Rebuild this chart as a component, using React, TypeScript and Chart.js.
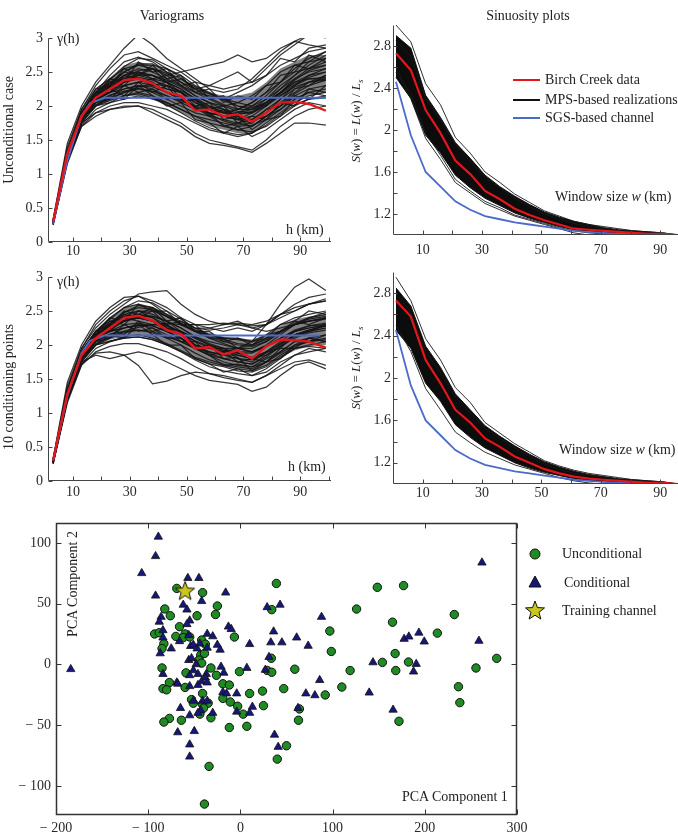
import React, { useEffect, useRef } from "react";
import { Chart, registerables } from "chart.js";
Chart.register(...registerables);

const FONT = '"Liberation Serif", "Times New Roman", serif';

// ---------- Variograms ----------
const VARIO_H = [3, 8, 13, 18, 23, 28, 33, 38, 43, 48, 53, 58, 63, 68, 73, 78, 83, 88, 93, 99];
const VARIO_X_TICKS = [10, 20, 30, 40, 50, 60, 70, 80, 90, 100];
const VARIO_X_LABELS = ["10", "", "30", "", "50", "", "70", "", "90", ""];
const VARIO_Y_TICKS = [0, 0.5, 1, 1.5, 2, 2.5, 3];
const VARIO_Y_LABELS = ["0", "0.5", "1", "1.5", "2", "2.5", "3"];

const UNCOND_RED = [0.3, 1.3, 1.85, 2.12, 2.25, 2.38, 2.4, 2.33, 2.2, 2.15, 1.93, 1.95, 1.85, 1.88, 1.77, 1.9, 2.05, 2.06, 2.03, 1.93];
const UNCOND_BLUE_H = [3, 8, 13, 16, 21, 99];
const UNCOND_BLUE = [0.27, 1.2, 1.85, 2.04, 2.12, 2.12];
const UNCOND_CORE_LOW = [0.27, 1.2, 1.75, 2.0, 2.08, 2.15, 2.15, 2.1, 2.0, 1.9, 1.8, 1.7, 1.65, 1.6, 1.6, 1.75, 1.9, 2.05, 2.15, 2.2];
const UNCOND_CORE_HIGH = [0.32, 1.35, 1.92, 2.25, 2.42, 2.6, 2.65, 2.6, 2.5, 2.4, 2.3, 2.2, 2.15, 2.15, 2.2, 2.35, 2.55, 2.65, 2.75, 2.75];
const UNCOND_REALS = [
  [0.3, 1.35, 1.95, 2.3, 2.55, 2.75, 2.8, 2.7, 2.6, 2.5, 2.35, 2.3, 2.25, 2.3, 2.35, 2.55, 2.75, 2.9, 3.05, 3.1],
  [0.28, 1.3, 1.9, 2.2, 2.45, 2.65, 2.72, 2.65, 2.5, 2.35, 2.2, 2.15, 2.1, 2.2, 2.3, 2.45, 2.6, 2.7, 2.8, 2.85],
  [0.3, 1.25, 1.85, 2.15, 2.35, 2.5, 2.6, 2.55, 2.45, 2.3, 2.15, 2.05, 2.0, 2.05, 2.15, 2.3, 2.5, 2.6, 2.65, 2.7],
  [0.27, 1.2, 1.8, 2.1, 2.3, 2.45, 2.5, 2.45, 2.35, 2.25, 2.1, 1.95, 1.9, 1.95, 2.05, 2.2, 2.35, 2.5, 2.55, 2.6],
  [0.3, 1.3, 1.9, 2.1, 2.2, 2.3, 2.35, 2.3, 2.25, 2.2, 2.05, 1.95, 1.85, 1.8, 1.9, 2.05, 2.2, 2.35, 2.45, 2.5],
  [0.26, 1.2, 1.75, 2.0, 2.1, 2.2, 2.25, 2.2, 2.1, 2.0, 1.9, 1.85, 1.8, 1.75, 1.8, 1.95, 2.1, 2.25, 2.35, 2.4],
  [0.3, 1.25, 1.8, 2.0, 2.05, 2.1, 2.15, 2.1, 2.05, 1.95, 1.85, 1.75, 1.7, 1.65, 1.7, 1.85, 2.0, 2.15, 2.25, 2.3],
  [0.25, 1.15, 1.7, 1.9, 2.0, 2.05, 2.05, 2.0, 1.95, 1.85, 1.75, 1.65, 1.6, 1.55, 1.6, 1.75, 1.9, 2.05, 2.15, 2.2],
  [0.28, 1.2, 1.7, 1.85, 1.95, 2.0, 2.0, 1.95, 1.85, 1.75, 1.6, 1.5, 1.45, 1.4, 1.35, 1.5, 1.7, 1.85, 1.95, 2.0],
  [0.3, 1.25, 1.75, 1.9, 1.95, 1.98, 2.0, 1.9, 1.8, 1.7, 1.55, 1.45, 1.42, 1.38, 1.32, 1.45, 1.6, 1.75, 1.75, 1.72],
  [0.32, 1.4, 1.95, 2.25, 2.4, 2.55, 2.6, 2.6, 2.55, 2.45, 2.3, 2.2, 2.1, 2.05, 2.0, 2.1, 2.25, 2.4, 2.5, 2.55],
  [0.3, 1.35, 1.9, 2.2, 2.35, 2.4, 2.45, 2.4, 2.35, 2.25, 2.1, 2.0, 1.95, 1.9, 1.95, 2.1, 2.3, 2.45, 2.6, 2.75],
  [0.29, 1.28, 1.85, 2.1, 2.25, 2.35, 2.4, 2.35, 2.2, 2.1, 2.0, 1.9, 1.85, 1.9, 2.0, 2.15, 2.35, 2.55, 2.7, 2.8],
  [0.27, 1.22, 1.78, 2.05, 2.15, 2.25, 2.3, 2.28, 2.2, 2.1, 1.98, 1.88, 1.78, 1.72, 1.75, 1.9, 2.1, 2.3, 2.45, 2.55],
  [0.3, 1.3, 1.88, 2.15, 2.3, 2.45, 2.55, 2.5, 2.4, 2.3, 2.2, 2.1, 2.0, 1.92, 1.9, 2.0, 2.15, 2.3, 2.4, 2.42],
  [0.33, 1.45, 2.0, 2.35, 2.6, 2.85, 3.05, 2.9, 2.7, 2.55, 2.4, 2.25, 2.2, 2.25, 2.4, 2.6, 2.8, 2.95, 3.05, 3.0],
  [0.28, 1.25, 1.82, 2.1, 2.25, 2.3, 2.35, 2.4, 2.45, 2.5, 2.55, 2.6, 2.65, 2.75, 2.65, 2.7, 2.85, 2.95, 2.9, 2.85],
  [0.3, 1.3, 1.85, 2.1, 2.2, 2.25, 2.3, 2.25, 2.15, 2.05, 1.95, 1.9, 1.85, 1.8, 1.85, 2.0, 2.2, 2.4, 2.55, 2.65],
  [0.26, 1.18, 1.72, 1.95, 2.05, 2.15, 2.2, 2.15, 2.05, 1.95, 1.85, 1.8, 1.75, 1.7, 1.72, 1.8, 1.95, 2.1, 2.2, 2.25],
  [0.28, 1.25, 1.82, 2.08, 2.2, 2.35, 2.45, 2.45, 2.38, 2.28, 2.15, 2.05, 1.95, 1.85, 1.8, 1.9, 2.05, 2.2, 2.35, 2.45],
  [0.3, 1.32, 1.9, 2.18, 2.32, 2.5, 2.62, 2.62, 2.5, 2.4, 2.28, 2.18, 2.08, 2.0, 1.98, 2.05, 2.2, 2.38, 2.52, 2.6],
  [0.29, 1.27, 1.83, 2.06, 2.16, 2.22, 2.26, 2.22, 2.15, 2.08, 1.98, 1.85, 1.72, 1.65, 1.62, 1.7, 1.85, 2.0, 2.1, 2.15],
  [0.27, 1.24, 1.8, 2.02, 2.12, 2.2, 2.28, 2.32, 2.3, 2.22, 2.12, 2.0, 1.9, 1.82, 1.78, 1.85, 2.0, 2.18, 2.3, 2.38],
  [0.31, 1.33, 1.92, 2.2, 2.38, 2.58, 2.7, 2.68, 2.55, 2.42, 2.25, 2.12, 2.02, 1.95, 1.95, 2.05, 2.25, 2.45, 2.65, 2.8],
  [0.28, 1.26, 1.84, 2.12, 2.28, 2.4, 2.48, 2.45, 2.35, 2.2, 2.05, 1.95, 1.9, 1.88, 1.92, 2.05, 2.2, 2.35, 2.4, 2.4],
  [0.3, 1.29, 1.87, 2.13, 2.26, 2.38, 2.42, 2.38, 2.3, 2.2, 2.08, 1.98, 1.92, 1.88, 1.9, 2.02, 2.18, 2.32, 2.42, 2.5],
  [0.27, 1.2, 1.76, 2.0, 2.08, 2.15, 2.18, 2.12, 2.02, 1.9, 1.78, 1.68, 1.62, 1.58, 1.6, 1.72, 1.88, 2.02, 2.1, 2.12],
  [0.3, 1.3, 1.86, 2.14, 2.28, 2.42, 2.52, 2.55, 2.48, 2.35, 2.25, 2.18, 2.1, 2.0, 1.95, 2.02, 2.15, 2.28, 2.35, 2.38],
  [0.29, 1.27, 1.9, 2.25, 2.3, 2.55, 2.45, 2.6, 2.4, 2.45, 2.2, 2.25, 2.05, 2.15, 2.1, 2.3, 2.35, 2.6, 2.55, 2.7],
  [0.27, 1.22, 1.8, 2.05, 2.25, 2.15, 2.35, 2.2, 2.3, 2.05, 2.1, 1.85, 1.95, 1.75, 1.85, 1.8, 2.05, 2.0, 2.25, 2.2],
  [0.31, 1.33, 1.88, 2.2, 2.2, 2.45, 2.4, 2.3, 2.35, 2.1, 2.0, 2.05, 1.8, 1.85, 1.65, 1.8, 1.85, 2.1, 2.2, 2.15],
  [0.28, 1.24, 1.85, 2.15, 2.4, 2.35, 2.65, 2.5, 2.55, 2.3, 2.35, 2.1, 2.15, 1.95, 2.05, 2.2, 2.45, 2.5, 2.75, 2.65],
  [0.3, 1.3, 1.83, 2.0, 2.15, 2.1, 2.3, 2.15, 2.0, 2.05, 1.8, 1.75, 1.6, 1.7, 1.55, 1.65, 1.8, 1.95, 2.05, 2.0],
  [0.26, 1.2, 1.78, 2.1, 2.3, 2.5, 2.45, 2.55, 2.35, 2.4, 2.25, 2.3, 2.4, 2.5, 2.35, 2.45, 2.7, 2.65, 2.85, 2.9],
  [0.3, 1.28, 1.86, 2.1, 2.35, 2.3, 2.5, 2.4, 2.25, 2.2, 2.0, 1.95, 2.0, 1.8, 1.75, 1.95, 2.0, 2.25, 2.3, 2.45],
  [0.28, 1.25, 1.82, 2.05, 2.1, 2.3, 2.2, 2.25, 2.1, 2.15, 1.95, 1.9, 1.7, 1.75, 1.7, 1.85, 1.95, 2.15, 2.1, 2.3],
];

const COND_RED = [0.3, 1.28, 1.85, 2.1, 2.25, 2.4, 2.43, 2.36, 2.22, 2.16, 1.95, 1.97, 1.86, 1.92, 1.8, 1.98, 2.08, 2.07, 2.05, 1.96];
const COND_BLUE_H = [3, 8, 13, 16, 21, 97];
const COND_BLUE = [0.3, 1.25, 1.88, 2.06, 2.14, 2.14];
const COND_CORE_LOW = [0.27, 1.2, 1.75, 2.0, 2.08, 2.12, 2.15, 2.1, 2.0, 1.9, 1.8, 1.72, 1.68, 1.65, 1.62, 1.7, 1.82, 1.92, 1.98, 2.0];
const COND_CORE_HIGH = [0.32, 1.35, 1.92, 2.22, 2.4, 2.55, 2.6, 2.55, 2.45, 2.35, 2.25, 2.18, 2.12, 2.1, 2.08, 2.15, 2.28, 2.38, 2.42, 2.45];
const COND_REALS = [
  [0.3, 1.35, 1.95, 2.3, 2.5, 2.65, 2.72, 2.65, 2.55, 2.4, 2.3, 2.25, 2.2, 2.25, 2.2, 2.3, 2.45, 2.55, 2.6, 2.65],
  [0.28, 1.3, 1.9, 2.2, 2.4, 2.55, 2.6, 2.55, 2.45, 2.3, 2.2, 2.15, 2.1, 2.1, 2.05, 2.15, 2.3, 2.4, 2.45, 2.5],
  [0.3, 1.25, 1.85, 2.15, 2.3, 2.45, 2.5, 2.45, 2.35, 2.2, 2.1, 2.0, 1.95, 1.95, 1.9, 2.0, 2.15, 2.3, 2.35, 2.4],
  [0.27, 1.2, 1.8, 2.1, 2.25, 2.35, 2.4, 2.35, 2.25, 2.15, 2.0, 1.9, 1.85, 1.85, 1.8, 1.9, 2.05, 2.2, 2.25, 2.3],
  [0.3, 1.3, 1.88, 2.1, 2.2, 2.3, 2.32, 2.28, 2.2, 2.1, 1.95, 1.85, 1.8, 1.75, 1.72, 1.85, 2.0, 2.15, 2.2, 2.25],
  [0.26, 1.2, 1.75, 2.0, 2.1, 2.18, 2.22, 2.18, 2.1, 2.0, 1.88, 1.78, 1.72, 1.68, 1.65, 1.75, 1.9, 2.05, 2.1, 2.15],
  [0.3, 1.25, 1.8, 2.0, 2.05, 2.1, 2.12, 2.08, 2.0, 1.9, 1.78, 1.68, 1.62, 1.58, 1.55, 1.65, 1.8, 1.95, 2.0, 2.05],
  [0.25, 1.15, 1.7, 1.9, 1.98, 2.02, 2.02, 1.96, 1.9, 1.8, 1.68, 1.58, 1.52, 1.48, 1.45, 1.55, 1.7, 1.85, 1.9, 1.95],
  [0.28, 1.2, 1.72, 1.88, 1.9, 1.85, 1.7, 1.43, 1.47, 1.55, 1.6, 1.58, 1.55, 1.5, 1.45, 1.55, 1.65, 1.75, 1.78, 1.7],
  [0.3, 1.25, 1.75, 1.85, 1.8, 1.85, 1.9, 1.85, 1.75, 1.65, 1.55, 1.48, 1.45, 1.42, 1.32, 1.38, 1.55, 1.7, 1.75, 1.65],
  [0.32, 1.4, 1.95, 2.25, 2.45, 2.6, 2.75, 2.78, 2.8, 2.6, 2.45, 2.35, 2.3, 2.32, 2.3, 2.35, 2.45, 2.6, 2.7, 2.75],
  [0.3, 1.35, 1.9, 2.2, 2.35, 2.42, 2.45, 2.42, 2.35, 2.25, 2.12, 2.05, 2.0, 1.95, 1.95, 2.05, 2.2, 2.3, 2.4, 2.45],
  [0.29, 1.28, 1.85, 2.1, 2.25, 2.35, 2.4, 2.35, 2.2, 2.1, 2.0, 1.95, 1.9, 1.95, 2.05, 2.3, 2.6, 2.85, 2.97, 2.8],
  [0.27, 1.22, 1.78, 2.05, 2.15, 2.25, 2.3, 2.28, 2.2, 2.1, 1.98, 1.88, 1.8, 1.75, 1.72, 1.82, 1.98, 2.12, 2.2, 2.25],
  [0.3, 1.3, 1.88, 2.15, 2.3, 2.48, 2.58, 2.55, 2.42, 2.3, 2.2, 2.1, 2.02, 1.95, 1.9, 1.98, 2.1, 2.2, 2.28, 2.32],
  [0.33, 1.45, 2.0, 2.35, 2.55, 2.7, 2.72, 2.6, 2.45, 2.35, 2.25, 2.22, 2.25, 2.3, 2.28, 2.3, 2.4, 2.5, 2.6, 2.68],
  [0.28, 1.25, 1.82, 2.1, 2.2, 2.25, 2.28, 2.3, 2.32, 2.3, 2.3, 2.3, 2.32, 2.3, 2.25, 2.2, 2.25, 2.3, 2.35, 2.4],
  [0.3, 1.3, 1.85, 2.1, 2.2, 2.25, 2.3, 2.25, 2.15, 2.05, 1.95, 1.9, 1.85, 1.8, 1.78, 1.88, 2.02, 2.15, 2.22, 2.28],
  [0.26, 1.18, 1.72, 1.95, 2.05, 2.12, 2.15, 2.1, 2.02, 1.92, 1.82, 1.75, 1.7, 1.65, 1.62, 1.7, 1.85, 1.98, 2.05, 2.08],
  [0.28, 1.25, 1.82, 2.08, 2.22, 2.35, 2.42, 2.42, 2.35, 2.25, 2.12, 2.02, 1.95, 1.88, 1.82, 1.9, 2.02, 2.15, 2.22, 2.28],
  [0.3, 1.32, 1.9, 2.18, 2.32, 2.48, 2.55, 2.52, 2.42, 2.32, 2.2, 2.12, 2.05, 2.0, 1.98, 2.05, 2.18, 2.3, 2.38, 2.42],
  [0.29, 1.27, 1.83, 2.06, 2.16, 2.2, 2.22, 2.2, 2.12, 2.05, 1.95, 1.85, 1.75, 1.7, 1.68, 1.75, 1.88, 2.0, 2.05, 2.1],
  [0.27, 1.24, 1.8, 2.02, 2.12, 2.2, 2.26, 2.3, 2.28, 2.2, 2.1, 2.0, 1.92, 1.85, 1.8, 1.85, 1.98, 2.1, 2.18, 2.22],
  [0.31, 1.33, 1.92, 2.2, 2.38, 2.55, 2.65, 2.62, 2.5, 2.38, 2.25, 2.15, 2.08, 2.02, 2.0, 2.08, 2.2, 2.32, 2.4, 2.48],
  [0.28, 1.26, 1.84, 2.12, 2.28, 2.4, 2.45, 2.4, 2.3, 2.18, 2.05, 1.96, 1.9, 1.88, 1.88, 1.98, 2.1, 2.22, 2.28, 2.3],
  [0.3, 1.29, 1.87, 2.13, 2.26, 2.36, 2.4, 2.36, 2.28, 2.18, 2.06, 1.98, 1.92, 1.9, 1.9, 1.98, 2.1, 2.2, 2.25, 2.28],
  [0.27, 1.2, 1.76, 2.0, 2.06, 2.1, 2.12, 2.08, 2.0, 1.9, 1.8, 1.72, 1.68, 1.62, 1.6, 1.68, 1.82, 1.95, 1.98, 1.95],
  [0.3, 1.3, 1.86, 2.14, 2.28, 2.42, 2.5, 2.5, 2.42, 2.32, 2.22, 2.15, 2.1, 2.08, 2.05, 2.1, 2.2, 2.3, 2.35, 2.38],
  [0.29, 1.27, 1.9, 2.2, 2.3, 2.5, 2.45, 2.55, 2.35, 2.4, 2.2, 2.2, 2.05, 2.1, 2.0, 2.15, 2.2, 2.35, 2.3, 2.4],
  [0.27, 1.22, 1.8, 2.05, 2.25, 2.15, 2.35, 2.2, 2.25, 2.05, 2.05, 1.85, 1.9, 1.75, 1.8, 1.75, 1.95, 1.95, 2.1, 2.05],
  [0.31, 1.33, 1.88, 2.2, 2.2, 2.4, 2.35, 2.3, 2.3, 2.1, 1.95, 2.0, 1.8, 1.82, 1.62, 1.75, 1.8, 2.0, 2.1, 2.05],
  [0.28, 1.24, 1.85, 2.15, 2.4, 2.35, 2.6, 2.5, 2.5, 2.3, 2.3, 2.1, 2.1, 1.95, 2.0, 2.1, 2.3, 2.35, 2.5, 2.45],
  [0.3, 1.3, 1.83, 2.0, 2.15, 2.1, 2.3, 2.15, 2.0, 2.0, 1.8, 1.72, 1.6, 1.65, 1.55, 1.6, 1.75, 1.85, 1.95, 1.9],
  [0.26, 1.2, 1.78, 2.1, 2.3, 2.45, 2.4, 2.5, 2.3, 2.35, 2.25, 2.25, 2.3, 2.35, 2.25, 2.3, 2.45, 2.5, 2.6, 2.65],
  [0.3, 1.28, 1.86, 2.1, 2.35, 2.3, 2.5, 2.4, 2.25, 2.2, 2.0, 1.95, 1.95, 1.8, 1.75, 1.9, 1.95, 2.15, 2.2, 2.3],
  [0.28, 1.25, 1.82, 2.05, 2.1, 2.3, 2.2, 2.25, 2.1, 2.1, 1.95, 1.85, 1.7, 1.72, 1.68, 1.8, 1.9, 2.05, 2.05, 2.15],
];

// ---------- Sinuosity ----------
const SIN_W = [1, 6, 11, 16, 21, 26, 31, 36, 41, 46, 51, 56, 61, 66, 71, 76, 81, 86, 91, 96];
const SIN_X_TICKS = [10, 20, 30, 40, 50, 60, 70, 80, 90];
const SIN_X_LABELS = ["10", "", "30", "", "50", "", "70", "", "90"];
const SIN_Y_TICKS = [1.2, 1.4, 1.6, 1.8, 2.0, 2.2, 2.4, 2.6, 2.8];
const SIN_Y_LABELS = ["1.2", "", "1.6", "", "2", "", "2.4", "", "2.8"];

const SIN_TOP_RED = [2.73, 2.57, 2.19, 1.97, 1.71, 1.58, 1.42, 1.34, 1.25, 1.19, 1.14, 1.1, 1.06, 1.05, 1.04, 1.03, 1.02, 1.01, 1.01, 1.0];
const SIN_TOP_BLUE = [2.46, 1.95, 1.6, 1.46, 1.32, 1.24, 1.18, 1.15, 1.12, 1.1, 1.08, 1.06, 1.04, 1.03, 1.02, 1.01, 1.01, 1.0, 1.0, 1.0];
const SIN_TOP_UPPER = [2.9, 2.78, 2.33, 2.12, 1.88, 1.73, 1.57, 1.46, 1.37, 1.29, 1.22, 1.17, 1.13, 1.1, 1.07, 1.05, 1.04, 1.03, 1.02, 1.0];
const SIN_TOP_LOWER = [2.5, 2.3, 1.95, 1.78, 1.57, 1.45, 1.35, 1.28, 1.21, 1.16, 1.12, 1.08, 1.05, 1.03, 1.02, 1.01, 1.0, 1.0, 1.0, 1.0];
const SIN_TOP_LINES = [
  [3.0, 2.84, 2.44, 2.24, 1.93, 1.78, 1.6, 1.5, 1.39, 1.31, 1.23, 1.18, 1.13, 1.1, 1.08, 1.06, 1.04, 1.03, 1.02, 1.0],
  [2.6, 2.3, 1.92, 1.72, 1.5, 1.4, 1.3, 1.24, 1.18, 1.14, 1.1, 1.06, 1.02, 1.0, 0.99, 0.99, 1.0, 1.0, 1.0, 1.0],
  [2.55, 2.35, 1.97, 1.76, 1.53, 1.42, 1.32, 1.26, 1.19, 1.15, 1.11, 1.07, 1.04, 1.02, 1.01, 1.0, 1.0, 1.0, 1.0, 1.0],
  [2.85, 2.7, 2.3, 2.1, 1.86, 1.7, 1.55, 1.45, 1.35, 1.27, 1.2, 1.15, 1.11, 1.08, 1.06, 1.04, 1.03, 1.02, 1.01, 1.0],
];

const SIN_BOT_RED = [2.73, 2.58, 2.17, 1.95, 1.7, 1.58, 1.43, 1.35, 1.26, 1.2, 1.14, 1.1, 1.07, 1.05, 1.04, 1.03, 1.02, 1.01, 1.01, 1.0];
const SIN_BOT_BLUE = [2.45, 1.93, 1.6, 1.46, 1.32, 1.24, 1.18, 1.15, 1.12, 1.1, 1.08, 1.06, 1.04, 1.03, 1.02, 1.01, 1.01, 1.0, 1.0, 1.0];
const SIN_BOT_UPPER = [2.85, 2.68, 2.3, 2.1, 1.85, 1.7, 1.55, 1.45, 1.36, 1.28, 1.21, 1.16, 1.12, 1.09, 1.07, 1.05, 1.04, 1.03, 1.02, 1.0];
const SIN_BOT_LOWER = [2.45, 2.28, 1.95, 1.78, 1.56, 1.44, 1.34, 1.27, 1.2, 1.15, 1.11, 1.08, 1.05, 1.03, 1.02, 1.01, 1.0, 1.0, 1.0, 1.0];
const SIN_BOT_LINES = [
  [2.95, 2.73, 2.37, 2.17, 1.91, 1.77, 1.58, 1.48, 1.38, 1.3, 1.22, 1.17, 1.13, 1.1, 1.08, 1.06, 1.04, 1.03, 1.02, 1.0],
  [2.5, 2.25, 1.9, 1.7, 1.49, 1.39, 1.3, 1.24, 1.18, 1.14, 1.1, 1.06, 1.03, 1.01, 1.0, 0.99, 1.0, 1.0, 1.0, 1.0],
  [2.8, 2.62, 2.25, 2.05, 1.82, 1.67, 1.52, 1.43, 1.34, 1.26, 1.19, 1.14, 1.1, 1.08, 1.06, 1.04, 1.03, 1.02, 1.01, 1.0],
];

// ---------- PCA scatter ----------
const PCA_X_TICKS = [-200, -100, 0, 100, 200, 300];
const PCA_X_LABELS = ["\u2212 200", "\u2212 100", "0", "100", "200", "300"];
const PCA_Y_TICKS = [-100, -50, 0, 50, 100];
const PCA_Y_LABELS = ["\u2212 100", "\u2212 50", "0", "50", "100"];

const PCA_UNCOND: [number, number][] = [
  [-69, 62.5], [-41, 59], [-82, 45.6], [-76, 40], [-47, 40], [-25, 48], [-27, 41], [-66, 31], [-93, 25], [-88, 26],
  [-83, 17], [-85, 13], [-70, 23], [-60, 25], [-62, 22], [-55, 22.5], [-42, 20], [-38, 16.6], [-43, 7.6], [-39, 9],
  [-45, 3.5], [-6.5, 22.5], [-42, 1], [-32, -3], [-59, -7], [-26, -9], [-1, -6], [-85, -3], [-77, -15], [-84, -20],
  [-80, -21], [-60, -19], [-19, -16], [-12, -17], [-19, -28], [-11, -31], [10, -24], [24, -22], [-41, -24], [-53, -29],
  [-51, -32], [-35, -32], [-41, -33], [-40, -36], [-44, -41], [-32, -44], [-64, -46], [-77, -44.5], [-83, -47.5], [-3, -34.5],
  [3, -41], [7, -51], [-12, -52], [25, -34], [50, -67], [40, -78], [-34, -84], [-39, -115], [34, 45], [39, 66.6],
  [33.5, 5], [29, -5], [34, -6.5], [59, -4], [47, -20], [63, -46], [64, -36.7],
  [148.5, 63.4], [177, 64.8], [126, 45.5], [165, 34.7], [232, 41], [97, 27.4], [213.6, 25.7], [98.6, 10.6], [167.8, 8.9],
  [154, 1.6], [182.3, 1.9], [168.5, -5.1], [119, -5.1], [278, 4.9], [255.5, -3], [110, -18.7], [92, -25.2], [236.5, -18.4],
  [238, -31.5], [172, -46.9],
];
const PCA_COND: [number, number][] = [
  [-184, -4], [-89, 105], [-92, 89], [-107, 75], [-92, 56.5], [-57, 71], [-45, 71], [-42, 52], [-62, 49], [-58, 45],
  [-16, 59], [-86, 39], [-88, 35], [-55, 36], [-58, 33], [-84, 28], [-84, 22], [-87, 9], [-75, 13], [-66, 19],
  [-56, 24], [-54, 15], [-51, 16], [-47, 13], [-44, 17], [-36, 25], [-30, 23], [-36, 13.6], [-13, 31], [-10, 29],
  [-25, 16], [-22, 12], [-56, 3.5], [-53, 5], [-48, 0], [-51, -5], [-55, -9], [-46, -8], [-37, -8], [-38, -11],
  [-21, -2], [-18, -7], [7, -3], [-84, -8], [-69, -15], [-68, -16], [-55, -18], [-46, -17], [-42, -14], [-36, -15],
  [-19, -23], [-15, -24], [-4, -24], [-51, -30], [-41, -30], [-36, -30], [-43, -38], [-46, -40], [-30, -40], [-65, -36],
  [-55, -42], [-68, -56], [-50, -55], [-4, -39], [10, -40], [13, -35], [-55, -66], [-55, -76], [37, -58], [41, -68],
  [29, 47], [43, 49], [36, 27], [33, 18], [45, 18], [31, 6], [27, -4.6], [61, 22], [10, 16.6], [62.5, -36],
  [262, 83.7], [88, 39], [177.6, 20.9], [182.7, 22.8], [193.6, 26], [199.4, 18.7], [258.7, 19.3], [73.5, 15.2], [143.8, 1.6],
  [190.7, 0.3], [187.8, -6], [86, -13], [71, -24], [80.8, -25.5], [139.7, -23.3], [165.6, -37.4],
];
const PCA_TRAIN: [number, number][] = [[-60, 60]];

const RED = "#e3161b";
const BLUE = "#4a6bcc";
const GREEN = "#1e8c23";
const NAVY = "#16167c";
const YELLOW = "#c9c61c";

// ---------- helpers ----------
function makeStar(r: number): HTMLCanvasElement {
  const c = document.createElement("canvas");
  const s = Math.ceil(r * 2 + 4);
  c.width = s;
  c.height = s;
  const ctx = c.getContext("2d")!;
  ctx.translate(s / 2, s / 2);
  ctx.beginPath();
  for (let i = 0; i < 10; i++) {
    const rr = i % 2 === 0 ? r : r * 0.42;
    const a = -Math.PI / 2 + (i * Math.PI) / 5;
    const x = rr * Math.cos(a);
    const y = rr * Math.sin(a);
    if (i === 0) ctx.moveTo(x, y);
    else ctx.lineTo(x, y);
  }
  ctx.closePath();
  ctx.fillStyle = YELLOW;
  ctx.fill();
  ctx.strokeStyle = "#111";
  ctx.lineWidth = 1;
  ctx.stroke();
  return c;
}

function scale(
  axis: "x" | "y",
  min: number,
  max: number,
  ticks: number[],
  labels: string[],
  size: number,
  pad: number
) {
  return {
    type: "linear",
    min,
    max,
    grid: { display: false, drawTicks: false },
    border: { display: false },
    afterBuildTicks: (s: any) => {
      s.ticks = ticks.map((v) => ({ value: v }));
    },
    afterFit: (s: any) => {
      if (axis === "x") s.height = size;
      else s.width = size;
    },
    ticks: {
      padding: pad,
      color: "#2a2a2a",
      autoSkip: false,
      maxRotation: 0,
      font: { family: FONT, size: 14 },
      callback: (_v: any, i: number) => labels[i] ?? "",
    },
  };
}

const framePlugin = {
  id: "frame",
  afterDatasetsDraw(chart: any, _args: any, opts: any) {
    const { ctx, chartArea: a, scales } = chart;
    ctx.save();
    ctx.strokeStyle = opts.color || "#333";
    ctx.lineWidth = opts.width || 1;
    const L = Math.round(a.left) + 0.5;
    const R = Math.round(a.right) - 0.5;
    const T = Math.round(a.top) + 0.5;
    const B = Math.round(a.bottom) - 0.5;
    ctx.beginPath();
    if (opts.box) {
      ctx.rect(L, T, R - L, B - T);
    } else {
      ctx.moveTo(L, T);
      ctx.lineTo(L, B);
      ctx.lineTo(R + 0.5, B);
    }
    ctx.stroke();
    const len = opts.len || 4;
    ctx.lineWidth = 1;
    ctx.beginPath();
    scales.x.ticks.forEach((t: any) => {
      const px = Math.round(scales.x.getPixelForValue(t.value)) + 0.5;
      if (px < a.left - 1 || px > a.right + 1) return;
      ctx.moveTo(px, B);
      ctx.lineTo(px, B - len);
      if (opts.box) {
        ctx.moveTo(px, T);
        ctx.lineTo(px, T + len);
      }
    });
    scales.y.ticks.forEach((t: any) => {
      const py = Math.round(scales.y.getPixelForValue(t.value)) + 0.5;
      if (py < a.top - 1 || py > a.bottom + 1) return;
      ctx.moveTo(L, py);
      ctx.lineTo(L + len, py);
      if (opts.box) {
        ctx.moveTo(R, py);
        ctx.lineTo(R - len, py);
      }
    });
    ctx.stroke();
    ctx.restore();
  },
};

function line(xs: number[], ys: number[], color: string, width: number, extra: any = {}) {
  return {
    data: xs.map((x, i) => ({ x, y: ys[i] })),
    borderColor: color,
    borderWidth: width,
    pointRadius: 0,
    tension: 0,
    fill: false,
    ...extra,
  };
}

function varioConfig(
  red: number[], blueH: number[], blue: number[], reals: number[][],
  coreLow: number[], coreHigh: number[],
  padTop: number, xH: number, xPad: number
) {
  return {
    type: "line",
    data: {
      datasets: [
        line(VARIO_H, red, RED, 2.4),
        line(blueH, blue, BLUE, 2),
        ...reals.map((r) => line(VARIO_H, r, "rgba(20,20,20,0.85)", 1.25)),
        line(VARIO_H, coreLow, "rgba(0,0,0,0)", 0),
        line(VARIO_H, coreHigh, "rgba(0,0,0,0)", 0, { fill: "-1", backgroundColor: "rgba(25,25,25,0.55)" }),
      ],
    },
    options: {
      animation: false,
      responsive: false,
      layout: { padding: { top: padTop, right: 9, left: 0, bottom: 0 } },
      plugins: { legend: { display: false }, tooltip: { enabled: false }, frame: { color: "#444", width: 1, len: 4 } },
      scales: {
        x: scale("x", 1.2, 100.8, VARIO_X_TICKS, VARIO_X_LABELS, xH, xPad),
        y: scale("y", 0, 3, VARIO_Y_TICKS, VARIO_Y_LABELS, 48, 5),
      },
    },
    plugins: [framePlugin],
  };
}

function sinConfig(red: number[], blue: number[], upper: number[], lower: number[], lines: number[][], padTop: number, xH: number, xPad: number) {
  return {
    type: "line",
    data: {
      datasets: [
        line(SIN_W, red, RED, 2.2),
        line(SIN_W, blue, BLUE, 1.8),
        ...lines.map((r) => line(SIN_W, r, "rgba(25,25,25,0.9)", 1)),
        line(SIN_W, lower, "#111", 1),
        line(SIN_W, upper, "#111", 1, { fill: "-1", backgroundColor: "#0c0c0c" }),
      ],
    },
    options: {
      animation: false,
      responsive: false,
      layout: { padding: { top: padTop, right: 0, left: 0, bottom: 0 } },
      plugins: { legend: { display: false }, tooltip: { enabled: false }, frame: { color: "#444", width: 1, len: 4 } },
      scales: {
        x: scale("x", 0, 96, SIN_X_TICKS, SIN_X_LABELS, xH, xPad),
        y: scale("y", 1.0, 3.0, SIN_Y_TICKS, SIN_Y_LABELS, 53, 2),
      },
    },
    plugins: [framePlugin],
  };
}

function pcaConfig(star: HTMLCanvasElement) {
  const legendPlugin = {
    id: "pcaLegend",
    afterDraw(chart: any) {
      const { ctx } = chart;
      ctx.save();
      ctx.beginPath();
      ctx.arc(535, 44, 5, 0, Math.PI * 2);
      ctx.fillStyle = GREEN;
      ctx.fill();
      ctx.strokeStyle = "#111";
      ctx.lineWidth = 1;
      ctx.stroke();
      ctx.beginPath();
      ctx.moveTo(535, 66);
      ctx.lineTo(541, 77);
      ctx.lineTo(529, 77);
      ctx.closePath();
      ctx.fillStyle = NAVY;
      ctx.fill();
      ctx.stroke();
      ctx.drawImage(star, 535 - star.width / 2, 101 - star.height / 2);
      ctx.fillStyle = "#222";
      ctx.font = `14px ${FONT}`;
      ctx.textBaseline = "middle";
      ctx.fillText("Unconditional", 562, 44);
      ctx.fillText("Conditional", 564, 73);
      ctx.fillText("Training channel", 562, 101);
      ctx.restore();
    },
  };
  return {
    type: "scatter",
    data: {
      datasets: [
        {
          data: PCA_TRAIN.map(([x, y]) => ({ x, y })),
          pointStyle: star,
          pointRadius: 10,
        },
        {
          data: PCA_COND.map(([x, y]) => ({ x, y })),
          pointStyle: "triangle",
          pointRadius: 4.8,
          backgroundColor: NAVY,
          borderColor: "#111",
          borderWidth: 0.8,
        },
        {
          data: PCA_UNCOND.map(([x, y]) => ({ x, y })),
          pointStyle: "circle",
          pointRadius: 4.2,
          backgroundColor: GREEN,
          borderColor: "#111",
          borderWidth: 1,
        },
      ],
    },
    options: {
      animation: false,
      responsive: false,
      layout: { padding: { top: 10, right: 161, left: 0, bottom: 0 } },
      plugins: { legend: { display: false }, tooltip: { enabled: false }, frame: { color: "#333", width: 1.5, len: 5, box: true } },
      scales: {
        x: scale("x", -200, 300, PCA_X_TICKS, PCA_X_LABELS, 24, 5),
        y: scale("y", -124, 116, PCA_Y_TICKS, PCA_Y_LABELS, 56, 5),
      },
    },
    plugins: [framePlugin, legendPlugin],
  };
}

function ChartCanvas({ left, top, width, height, make }: { left: number; top: number; width: number; height: number; make: () => any }) {
  const ref = useRef<HTMLCanvasElement>(null);
  useEffect(() => {
    const chart = new Chart(ref.current as HTMLCanvasElement, make());
    return () => chart.destroy();
  }, []);
  return (
    <canvas
      ref={ref}
      width={width}
      height={height}
      style={{ position: "absolute", left, top, width, height, display: "block" }}
    />
  );
}

const txt: React.CSSProperties = {
  position: "absolute",
  fontFamily: FONT,
  fontSize: 14,
  color: "#222",
  whiteSpace: "nowrap",
  lineHeight: 1,
};

function Label({ x, y, children, rotate, anchor = "center", size = 14 }: any) {
  const tx = anchor === "left" ? "0" : "-50%";
  return (
    <div
      style={{
        ...txt,
        fontSize: size,
        left: x,
        top: y,
        transform: `translate(${tx}, -50%)${rotate ? " rotate(-90deg)" : ""}`,
      }}
    >
      {children}
    </div>
  );
}

function SinYLabel({ x, y }: { x: number; y: number }) {
  return (
    <Label x={x} y={y} rotate size={13}>
      <i>S</i>(<i>w</i>) = <i>L</i>(<i>w</i>) / <i>L</i>
      <sub style={{ fontSize: 9 }}>
        <i>s</i>
      </sub>
    </Label>
  );
}

export default function App() {
  const star = makeStar(10);
  return (
    <div style={{ position: "fixed", left: 0, top: 0, width: 678, height: 839, background: "#fff", overflow: "hidden" }}>
      <ChartCanvas left={0} top={0} width={340} height={262}
        make={() => varioConfig(UNCOND_RED, UNCOND_BLUE_H, UNCOND_BLUE, UNCOND_REALS, UNCOND_CORE_LOW, UNCOND_CORE_HIGH, 38, 20, 1)} />
      <ChartCanvas left={0} top={250} width={340} height={260}
        make={() => varioConfig(COND_RED, COND_BLUE_H, COND_BLUE, COND_REALS, COND_CORE_LOW, COND_CORE_HIGH, 27, 29, 3)} />
      <ChartCanvas left={340} top={0} width={338} height={262}
        make={() => sinConfig(SIN_TOP_RED, SIN_TOP_BLUE, SIN_TOP_UPPER, SIN_TOP_LOWER, SIN_TOP_LINES, 25, 27, 7)} />
      <ChartCanvas left={340} top={250} width={338} height={260}
        make={() => sinConfig(SIN_BOT_RED, SIN_BOT_BLUE, SIN_BOT_UPPER, SIN_BOT_LOWER, SIN_BOT_LINES, 22, 26, 1)} />
      <ChartCanvas left={0} top={510} width={678} height={329} make={() => pcaConfig(star)} />

      <Label x={172} y={16}>Variograms</Label>
      <Label x={528} y={16}>Sinuosity plots</Label>

      <Label x={57} y={39} anchor="left">γ(h)</Label>
      <Label x={286} y={230} anchor="left">h (km)</Label>
      <Label x={57} y={282} anchor="left">γ(h)</Label>
      <Label x={288} y={467} anchor="left">h (km)</Label>
      <Label x={9} y={130} rotate>Unconditional case</Label>
      <Label x={9} y={387} rotate>10 conditioning points</Label>

      <SinYLabel x={357} y={121} />
      <SinYLabel x={357} y={368} />
      <Label x={555} y={197} anchor="left">Window size <i>w</i> (km)</Label>
      <Label x={559} y={450} anchor="left">Window size <i>w</i> (km)</Label>

      <div style={{ position: "absolute", left: 513, top: 79, width: 27, height: 2, background: RED }} />
      <div style={{ position: "absolute", left: 513, top: 99, width: 27, height: 2, background: "#111" }} />
      <div style={{ position: "absolute", left: 513, top: 117, width: 27, height: 2, background: BLUE }} />
      <Label x={545} y={80} anchor="left">Birch Creek data</Label>
      <Label x={545} y={100} anchor="left">MPS-based realizations</Label>
      <Label x={545} y={118} anchor="left">SGS-based channel</Label>

      <Label x={73} y={584} rotate>PCA Component 2</Label>
      <Label x={402} y={797} anchor="left">PCA Component 1</Label>
    </div>
  );
}
